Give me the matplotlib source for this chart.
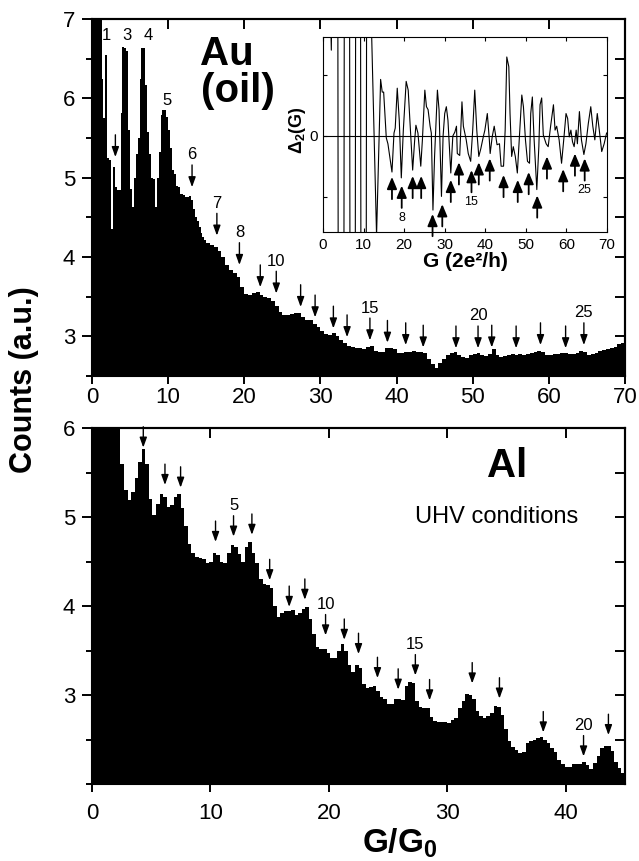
import numpy as np
import matplotlib
matplotlib.use("Agg")
import matplotlib.pyplot as plt
from matplotlib.ticker import MultipleLocator

plt.rcParams['font.family'] = 'Liberation Sans'
plt.rcParams['mathtext.fontset'] = 'custom'
plt.rcParams['mathtext.rm'] = 'Liberation Sans'
plt.rcParams['mathtext.it'] = 'Liberation Sans:italic'
plt.rcParams['mathtext.bf'] = 'Liberation Sans:bold'

# ---- Au (oil) histogram: 0.25 bins up to G=15, 0.5 bins after ----
au_low = [7.5, 7.5, 7.5, 7.5, 7.5, 6.25, 5.75, 6.55, 5.25, 5.22,
          4.35, 5.13, 4.88, 4.85, 4.84, 5.81, 6.65, 6.63, 6.6, 5.6,
          4.86, 4.63, 5.0, 5.3, 5.5, 6.25, 6.63, 6.63, 6.17, 5.57,
          5.3, 5.0, 4.98, 4.63, 5.0, 5.32, 5.79, 5.85, 5.85, 5.77,
          5.6, 5.37, 5.1, 5.05, 4.9, 4.88, 4.8, 4.8, 4.78, 4.76,
          4.76, 4.77, 4.72, 4.61, 4.5, 4.45, 4.38, 4.3, 4.25, 4.21]
au_high = [4.18, 4.15, 4.12, 4.08, 4.0, 3.9, 3.83, 3.8, 3.75, 3.62,
           3.53, 3.52, 3.54, 3.56, 3.52, 3.5, 3.48, 3.44, 3.38, 3.31,
           3.27, 3.27, 3.28, 3.29, 3.3, 3.24, 3.21, 3.2, 3.16, 3.12,
           3.07, 3.03, 3.02, 3.04, 3.0, 2.96, 2.92, 2.88, 2.86, 2.85,
           2.85, 2.84, 2.87, 2.88, 2.81, 2.8, 2.8, 2.85, 2.85, 2.84,
           2.79, 2.79, 2.8, 2.8, 2.81, 2.8, 2.8, 2.79, 2.72, 2.65,
           2.6, 2.66, 2.72, 2.77, 2.79, 2.8, 2.77, 2.74, 2.73, 2.76,
           2.78, 2.79, 2.76, 2.75, 2.78, 2.84, 2.76, 2.74, 2.75, 2.77,
           2.78, 2.77, 2.78, 2.77, 2.78, 2.79, 2.8, 2.82, 2.8, 2.77,
           2.77, 2.78, 2.78, 2.79, 2.79, 2.78, 2.78, 2.79, 2.81, 2.8,
           2.77, 2.78, 2.79, 2.81, 2.83, 2.84, 2.85, 2.87, 2.9, 2.92]
au_edges = np.concatenate([np.arange(0, 15, 0.25), np.arange(15, 70.01, 0.5)])
au_counts = au_low + au_high

au_arrow_x = [3.07, 13.14, 16.4, 19.36, 22.1, 24.2, 27.4, 29.3, 31.7, 33.5, 36.5,
              38.8, 41.2, 43.5, 47.8, 50.7, 52.5, 55.7, 58.9, 62.2, 64.6]
au_arrow_y = [5.26, 4.88, 4.27, 3.9, 3.62, 3.54, 3.37, 3.24, 3.1, 2.99, 2.95,
              2.92, 2.89, 2.86, 2.85, 2.85, 2.86, 2.85, 2.89, 2.85, 2.89]
au_arrow_lbl = ['', '6', '7', '8', '', '10', '', '', '', '', '15',
                '', '', '', '', '20', '', '', '', '', '25']
au_peak_lbl = ['1', '3', '4', '5']
au_peak_x = [1.95, 4.65, 7.4, 9.85]
au_peak_y = [6.73, 6.73, 6.73, 5.92]

# ---- Al (UHV) histogram: 0.3 bins ----
al_counts = [6.5, 6.5, 6.5, 6.5, 6.5, 6.5, 6.5, 6.5, 5.6, 5.3,
             5.19, 5.28, 5.44, 5.62, 5.76, 5.6, 5.2, 5.02, 5.15, 5.26,
             5.22, 5.11, 5.13, 5.23, 5.26, 5.1, 4.9, 4.7, 4.6, 4.55,
             4.54, 4.53, 4.48, 4.5, 4.6, 4.57, 4.5, 4.48, 4.6, 4.68,
             4.66, 4.58, 4.49, 4.66, 4.72, 4.6, 4.48, 4.3, 4.25, 4.24,
             4.2, 4.0, 3.88, 3.92, 3.94, 3.94, 3.95, 3.9, 3.92, 3.97,
             3.99, 3.85, 3.68, 3.54, 3.52, 3.52, 3.47, 3.42, 3.42, 3.5,
             3.57, 3.5, 3.34, 3.26, 3.34, 3.3, 3.12, 3.08, 3.09, 3.1,
             3.04, 2.98, 2.96, 2.9, 2.9, 2.95, 2.96, 2.94, 3.1, 3.15,
             3.14, 2.93, 2.86, 2.85, 2.85, 2.75, 2.71, 2.7, 2.7, 2.7,
             2.68, 2.72, 2.74, 2.85, 2.93, 3.01, 3.0, 2.95, 2.82, 2.76,
             2.74, 2.76, 2.8, 2.88, 2.87, 2.78, 2.62, 2.48, 2.42, 2.38,
             2.35, 2.36, 2.46, 2.48, 2.49, 2.52, 2.53, 2.5, 2.46, 2.4,
             2.36, 2.27, 2.22, 2.19, 2.19, 2.22, 2.23, 2.23, 2.25, 2.21,
             2.17, 2.24, 2.32, 2.4, 2.43, 2.43, 2.37, 2.25, 2.18, 2.12]
al_edges = np.linspace(0, 45, len(al_counts) + 1)

al_arrow_x = [4.33, 6.16, 7.48, 10.43, 11.95, 13.5, 15.0, 16.65, 17.97, 19.72, 21.3,
              22.5, 24.1, 25.85, 27.3, 28.5, 32.1, 34.4, 38.1, 41.5, 43.6]
al_arrow_y = [5.78, 5.36, 5.33, 4.72, 4.78, 4.8, 4.29, 3.99, 4.07, 3.67, 3.62,
              3.46, 3.19, 3.06, 3.22, 2.94, 3.13, 2.96, 2.58, 2.31, 2.55]
al_arrow_lbl = ['', '', '', '', '5', '', '', '', '', '10', '',
                '', '', '', '15', '', '', '', '', '20', '']

# ---- inset: second difference Delta_2(G) ----
inset_g = [1.0, 2.05, 2.6, 3.6, 3.8, 5.1, 5.3, 6.5, 6.7, 7.9,
           8.1, 9.2, 9.4, 10.6, 10.8, 11.9, 12.0, 13.2, 14.2, 14.6,
           14.95, 15.6, 16.0, 16.7, 17.0, 17.5, 17.8, 18.3, 18.8, 19.3,
           19.8, 20.5, 21.0, 21.6, 22.1, 22.6, 22.9, 23.4, 24.1, 24.5,
           25.1, 25.5, 25.9, 26.4, 26.7, 27.1, 27.5, 28.2, 28.6, 29.2,
           29.6, 30.0, 30.4, 30.8, 31.5, 32.0, 32.5, 32.9, 33.1, 33.7,
           34.25, 34.6, 35.3, 35.8, 36.4, 36.9, 37.4, 37.9, 38.4, 38.9,
           39.5, 39.9, 40.5, 41.0, 41.2, 41.7, 42.2, 42.6, 42.9, 43.5,
           43.9, 44.5, 44.9, 45.3, 45.8, 46.1, 46.5, 46.9, 47.4, 47.9,
           48.4, 49.0, 49.4, 49.9, 50.4, 50.9, 51.2, 51.6, 52.0, 52.7,
           53.2, 53.5, 53.9, 54.3, 55.0, 55.5, 56.1, 56.8, 57.2, 57.6,
           58.2, 58.8, 59.4, 59.9, 60.3, 60.7, 61.1, 61.5, 61.9, 62.4,
           62.7, 63.2, 63.7, 64.3, 64.8, 65.4, 66.0, 66.5, 67.0, 67.6,
           68.1, 68.7, 69.3, 69.9]
inset_d2 = [3, 0.88, 3, 3, -3, -3, 3, 3, -3, -3,
            3, 3, -3, -3, 3, 3, 1.02, -1.02, 0.58, 0.45,
            0.45, -0.02, -0.08, -0.28, -0.37, 0.03, 0.08, 0.49, 0.16, -0.43,
            0.06, 0.56, 0.47, 0.03, -0.35, -0.04, 0.11, 0.03, -0.31, -0.04,
            0.47, 0.3, 0.27, 0.1, 0.03, -0.76, -0.21, 0.47, 0.27, -0.62,
            0.0, 0.23, 0.3, 0.16, -0.38, 0.0, 0.04, 0.1, -0.18, -0.2,
            0.35, 0.1, -0.04, -0.18, -0.26, 0.06, 0.47, 0.06, -0.21, -0.13,
            -0.01, 0.06, 0.23, -0.04, -0.18, -0.01, 0.1, -0.01, -0.09, -0.08,
            -0.31, -0.31, 0.06, 0.81, 0.71, 0.23, -0.21, -0.11, -0.21, -0.38,
            -0.01, 0.42, 0.3, -0.04, -0.26, -0.28, 0.23, 0.4, -0.01, -0.55,
            -0.11, 0.32, 0.39, 0.01, -0.08, -0.11, 0.1, 0.32, 0.06, 0.1,
            -0.04, -0.28, -0.01, 0.23, 0.18, -0.01, 0.06, -0.06, -0.11, 0.06,
            -0.08, 0.25, -0.04, -0.19, -0.08, 0.13, 0.3, 0.1, -0.04, 0.23,
            0.06, -0.16, -0.08, 0.03]
inset_arrow_x = [17.0, 19.4, 22.1, 24.2, 27.0, 29.4, 31.5, 33.5, 36.6, 38.4,
                 41.1, 44.5, 48.0, 50.7, 52.8, 55.2, 59.2, 62.1, 64.5]
inset_arrow_y = [-0.42, -0.51, -0.41, -0.41, -0.8, -0.7, -0.45, -0.27, -0.35, -0.27,
                 -0.23, -0.4, -0.45, -0.37, -0.61, -0.21, -0.34, -0.18, -0.23]
inset_arrow_lbl = ['', '8', '', '', '', '', '', '', '15', '',
                   '', '', '', '', '', '', '', '', '25']


W, H = 639, 861
fig = plt.figure(figsize=(W / 100, H / 100), dpi=100)


def box(x0, y0, x1, y1):
    # pixel box -> figure fraction
    return [x0 / W, 1 - y1 / H, (x1 - x0) / W, (y1 - y0) / H]


def frame(ax, xmax, xstep, ymin, ymax, yticks, top_ticks, xpad):
    ax.set_xlim(0, xmax)
    ax.set_ylim(ymin, ymax)
    ax.set_xticks(np.arange(0, xmax + 0.1, xstep))
    ax.set_yticks(yticks)
    ax.yaxis.set_minor_locator(MultipleLocator(0.5))
    for s in ax.spines.values():
        s.set_linewidth(1.5)
    ax.tick_params(axis='both', which='both', direction='out', width=1.4,
                   top=False, right=False, labelsize=16)
    ax.tick_params(axis='x', which='major', length=6, pad=xpad)
    ax.tick_params(axis='y', which='major', length=7, pad=5)
    ax.tick_params(axis='y', which='minor', length=4)
    sx = ax.secondary_xaxis('top')
    sx.set_xticks(top_ticks)
    sx.tick_params(direction='in', length=7, width=1.4, labeltop=False)
    sy = ax.secondary_yaxis('right')
    sy.set_yticks(np.arange(ymin, ymax + 0.01, 0.5))
    sy.tick_params(direction='in', length=7, width=1.4, labelright=False)
    for s in list(sx.spines.values()) + list(sy.spines.values()):
        s.set_linewidth(1.5)


def down_arrows(ax, xs, ys, labels, length, gap):
    for x, y, lab in zip(xs, ys, labels):
        ax.annotate('', xy=(x, y), xytext=(0, length), textcoords='offset points',
                    arrowprops=dict(arrowstyle='-|>,head_length=0.5,head_width=0.18',
                                    color='k', lw=1.0, shrinkA=0, shrinkB=0,
                                    mutation_scale=12))
        if lab:
            ax.annotate(lab, xy=(x, y), xytext=(0, length + gap),
                        textcoords='offset points', ha='center', va='baseline',
                        fontsize=12)


# top panel: Au
ax1 = fig.add_axes(box(92, 19, 625, 376))
ax1.stairs(au_counts, au_edges, fill=True, color='black', baseline=0, lw=0)
frame(ax1, 70, 10, 2.5, 7, [3, 4, 5, 6, 7], [10, 20, 30, 40, 50, 60], 2)
down_arrows(ax1, au_arrow_x, au_arrow_y, au_arrow_lbl, 16, 4)
for lab, x, y in zip(au_peak_lbl, au_peak_x, au_peak_y):
    ax1.text(x, y, lab, ha='center', va='baseline', fontsize=12)
ax1.text(0.253, 0.871, 'Au', transform=ax1.transAxes, ha='center',
         va='baseline', fontsize=29, fontweight='bold')
ax1.text(0.274, 0.7675, '(oil)', transform=ax1.transAxes, ha='center',
         va='baseline', fontsize=29, fontweight='bold')

# bottom panel: Al
ax2 = fig.add_axes(box(92, 428, 625, 784))
ax2.stairs(al_counts, al_edges, fill=True, color='black', baseline=0, lw=0)
frame(ax2, 45, 10, 2, 6, [3, 4, 5, 6], [10, 20, 30, 40], 8)
down_arrows(ax2, al_arrow_x, al_arrow_y, al_arrow_lbl, 15, 4)
ax2.text(0.779, 0.862, 'Al', transform=ax2.transAxes, ha='center',
         va='baseline', fontsize=29, fontweight='bold')
ax2.text(0.76, 0.733, 'UHV conditions', transform=ax2.transAxes, ha='center',
         va='baseline', fontsize=17)

# inset
axin = fig.add_axes(box(323, 37, 607, 232))
axin.plot(inset_g, inset_d2, color='black', lw=0.8)
axin.axhline(0, color='black', lw=0.8)
axin.set_xlim(0, 70)
axin.set_ylim(-0.985, 1.015)
axin.set_xticks(np.arange(0, 71, 10))
axin.set_yticks([-0.63, 0, 0.63])
axin.set_yticklabels(['', '0', ''])
for s in axin.spines.values():
    s.set_linewidth(0.8)
axin.tick_params(direction='in', length=3, width=0.8, top=True, right=True,
                 labelsize=11, pad=4)
for x, y, lab in zip(inset_arrow_x, inset_arrow_y, inset_arrow_lbl):
    axin.annotate('', xy=(x, y), xytext=(0, -16), textcoords='offset points',
                  arrowprops=dict(arrowstyle='-|>,head_length=0.6,head_width=0.25',
                                  color='k', lw=1.3, shrinkA=0, shrinkB=0,
                                  mutation_scale=12))
    if lab:
        axin.annotate(lab, xy=(x, y), xytext=(0, -23), textcoords='offset points',
                      ha='center', va='center', fontsize=9)
fig.text(465 / W, 1 - 267 / H, 'G (2e²/h)', ha='center', va='baseline',
         fontsize=15, fontweight='bold')
fig.text(297 / W, 1 - 130 / H, r'$\mathbf{\Delta_2(G)}$', rotation=90,
         ha='center', va='center', fontsize=13)

# shared axis labels
fig.text(24 / W, 1 - 380 / H, 'Counts (a.u.)', rotation=90, ha='center',
         va='center', fontsize=22, fontweight='bold')
fig.text(400 / W, 1 - 853 / H, r'$\mathbf{G/G_0}$', ha='center', va='baseline',
         fontsize=24)

fig.savefig('out.png', dpi=100)
